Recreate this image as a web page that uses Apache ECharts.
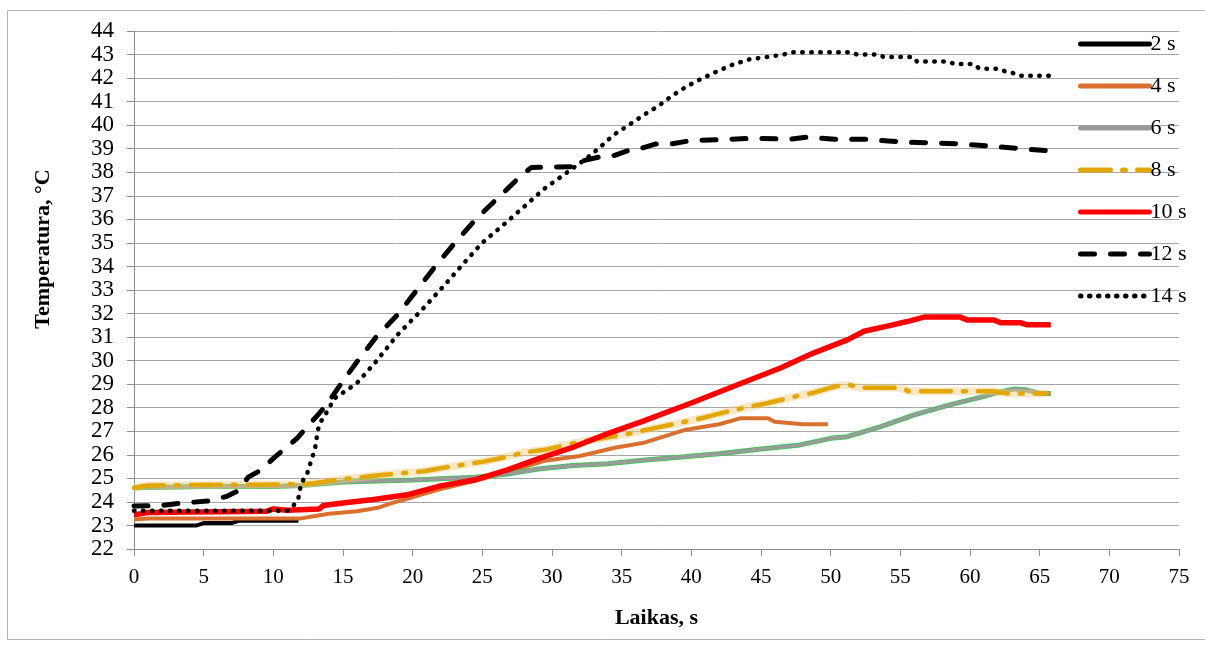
<!DOCTYPE html>
<html>
<head>
<meta charset="utf-8">
<script src="https://cdn.jsdelivr.net/npm/echarts@6/dist/echarts.min.js"></script>
<style>
  html, body { margin: 0; padding: 0; background: #fff; }
  #chart { width: 1205px; height: 647px; }
</style>
</head>
<body>
<div id="chart"></div>
<script>
// Temperature vs. time for different exposure durations
const seriesNames = ['2 s', '4 s', '6 s', '8 s', '10 s', '12 s', '14 s'];

const t2s = [[0,23.0],[4.5,23.0],[5,23.1],[7,23.1],[7.5,23.2],[11,23.2],[11.8,23.2]];

const t4s = [[0,23.25],[1,23.3],[12,23.3],[13,23.4],[14,23.5],[16,23.6],[17.5,23.75],[18.5,23.95],
  [20,24.2],[22,24.55],[24.5,24.9],[27,25.3],[29.5,25.75],[32,25.95],[34.5,26.3],[36.5,26.5],
  [39.5,27.05],[42,27.3],[43.5,27.55],[45.5,27.55],[46,27.4],[48,27.3],[49.8,27.3]];

const t6s = [[0,24.6],[5,24.65],[10,24.65],[12,24.7],[15,24.85],[20,24.93],[24.5,25.05],[27,25.2],
  [29,25.4],[31.5,25.55],[34,25.62],[36.5,25.77],[39.5,25.92],[42,26.05],[45,26.25],[47.8,26.42],
  [50,26.7],[51.2,26.77],[53.6,27.2],[56,27.7],[58.4,28.1],[60.8,28.45],[62,28.65],[63.2,28.8],
  [64.1,28.75],[65.1,28.6],[65.8,28.6]];

const t8s = [[0,24.6],[1,24.7],[12,24.75],[13,24.8],[14.8,24.95],[17.9,25.15],[20.8,25.3],[22.7,25.5],
  [25.1,25.71],[26.8,25.92],[28,26.1],[29.7,26.24],[31.6,26.5],[32.8,26.63],[35.1,26.85],[37.1,27.1],
  [40.7,27.55],[43,27.9],[45.5,28.2],[47.6,28.5],[48.8,28.64],[50,28.85],[50.7,28.95],[51.5,28.95],
  [52,28.85],[55,28.85],[55.6,28.7],[61.7,28.7],[62.7,28.6],[65.5,28.6]];

const t10s = [[0,23.45],[1,23.55],[9.5,23.6],[10,23.7],[11,23.65],[13.3,23.7],[13.6,23.85],[15,23.95],
  [17.2,24.1],[19.6,24.3],[22,24.68],[24.4,24.93],[26.8,25.36],[29.2,25.87],[31.6,26.34],[34,26.9],
  [36.4,27.4],[40,28.2],[43,28.9],[46.4,29.69],[48.8,30.33],[51.2,30.88],[52.4,31.25],[54.3,31.5],
  [55.5,31.66],[56.7,31.85],[59.3,31.85],[59.8,31.73],[61.7,31.73],[62.2,31.61],[63.6,31.61],
  [64.1,31.52],[65.8,31.52]];

const t12s = [[0,23.83],[2,23.85],[3.4,23.95],[5.6,24.05],[6.7,24.25],[7.4,24.45],[8.2,25.05],[9.1,25.35],
  [10,25.85],[10.7,26.2],[11.7,26.7],[12.3,27.1],[13.2,27.7],[13.8,28.1],[14.8,28.97],[16.1,30.03],
  [17.4,31.02],[18.9,31.94],[20.3,33.0],[21.7,34.06],[23.1,35.05],[24.6,36.05],[26.1,36.9],[27.7,37.81],
  [28.5,38.2],[31.5,38.24],[31.9,38.45],[33.5,38.66],[34.4,38.7],[35.6,38.95],[36.3,39.0],[37.4,39.2],
  [38.5,39.2],[40,39.35],[42.7,39.4],[44.5,39.45],[47,39.4],[48.4,39.5],[50.3,39.4],[52.7,39.4],
  [55,39.29],[57.3,39.25],[59.5,39.2],[61.6,39.1],[63.8,39.0],[65.9,38.9]];

const t14s = [[0,23.62],[11,23.62],[11.4,23.8],[11.8,24.16],[12.0,24.8],[12.4,25.15],[12.6,25.53],
  [12.8,25.9],[13.0,26.29],[13.2,27.06],[13.4,27.4],[13.8,27.78],[14.4,28.4],[14.9,28.6],[15.4,28.8],
  [16.0,29.05],[17.3,29.91],[18.9,31.09],[20.7,32.18],[22.5,33.35],[23.7,34.16],[25.0,35.01],
  [26.5,35.76],[28.0,36.54],[29.4,37.28],[31.0,37.96],[31.5,38.17],[32.5,38.6],[33.5,39.09],
  [34.4,39.58],[35.5,40.0],[36.5,40.4],[37.6,40.8],[38.6,41.24],[39.7,41.66],[40.8,41.99],[41.9,42.3],
  [43,42.58],[44.2,42.8],[45.5,42.9],[46.6,43.0],[47.3,43.1],[51.4,43.1],[51.9,43.0],[53.4,43.0],
  [53.8,42.9],[55.9,42.9],[56.2,42.7],[58.4,42.7],[58.9,42.6],[60.2,42.6],[60.7,42.4],[62.0,42.4],
  [62.6,42.27],[63.2,42.2],[63.6,42.1],[65.7,42.1]];

const xTitle = 'Laikas, s';
const yTitle = 'Temperatura, °C';

const serif = '"Liberation Serif", "Times New Roman", serif';
const gridColor = '#A6A6A6';

function line(name, data, lineStyle, extra) {
  return Object.assign({
    name: name,
    type: 'line',
    data: data,
    symbol: 'none',
    showSymbol: false,
    silent: true,
    itemStyle: { color: lineStyle.color },
    lineStyle: lineStyle
  }, extra || {});
}

const chart = echarts.init(document.getElementById('chart'), null, { renderer: 'canvas' });

chart.setOption({
  animation: false,
  backgroundColor: '#ffffff',
  grid: { left: 134, right: 26, top: 31, bottom: 98, containLabel: false },
  graphic: [
    {
      type: 'rect',
      shape: { x: 7.5, y: 10.5, width: 1400, height: 629 },
      style: { fill: 'none', stroke: '#B4B4B4', lineWidth: 1 },
      z: -10
    },
    {
      type: 'text',
      x: 43, y: 249,
      rotation: Math.PI / 2,
      style: {
        text: yTitle,
        font: 'bold 22px ' + serif,
        fill: '#000',
        align: 'center',
        verticalAlign: 'middle'
      }
    }
  ],
  legend: {
    data: seriesNames,
    orient: 'vertical',
    left: 1073,
    top: 28,
    itemWidth: 69,
    itemHeight: 14,
    itemGap: 20,
    itemStyle: { opacity: 0 },
    lineStyle: { width: 5, cap: 'round' },
    textStyle: { fontFamily: serif, fontSize: 22, color: '#000', padding: [0, 0, 0, -4] },
    selectedMode: false
  },
  xAxis: {
    type: 'value',
    min: 0, max: 75, interval: 5,
    name: xTitle,
    nameLocation: 'middle',
    nameGap: 58,
    nameTextStyle: { fontFamily: serif, fontSize: 22, fontWeight: 'bold', color: '#000' },
    axisLine: { show: true, lineStyle: { color: '#8C8C8C', width: 1 } },
    axisTick: { show: true, length: 7, lineStyle: { color: '#8C8C8C' } },
    axisLabel: { fontFamily: serif, fontSize: 21, color: '#000', margin: 18 },
    splitLine: { show: false }
  },
  yAxis: {
    type: 'value',
    min: 22, max: 44, interval: 1,
    axisLine: { show: true, lineStyle: { color: '#8C8C8C', width: 1 } },
    axisTick: { show: true, length: 7, lineStyle: { color: '#8C8C8C' } },
    axisLabel: { fontFamily: serif, fontSize: 23, color: '#000', margin: 20 },
    splitLine: { show: true, lineStyle: { color: gridColor, width: 1 } }
  },
  series: [
    line('2 s', t2s, { color: '#000000', width: 4 }),
    line('4 s', t4s, { color: '#D9702F', width: 4 }),
    // green edging under the grey 6 s curve
    line('6 s edge', t6s, { color: '#2FCB4A', width: 5 }),
    line('6 s', t6s, { color: '#9A9A9A', width: 3.5 }),
    // pale textured band behind the 8 s dash-dot curve
    line('8 s band', t8s, { color: 'rgba(240,205,130,0.45)', width: 8 }),
    line('8 s', t8s, { color: '#E3A702', width: 4.5, type: [30, 12, 3, 12], cap: 'round' }),
    line('10 s', t10s, { color: '#FF0000', width: 5.5 }),
    line('12 s', t12s, { color: '#000000', width: 5, type: [14, 16], cap: 'round' }),
    line('14 s', t14s, { color: '#000000', width: 4.5, type: [0.5, 8.5], cap: 'round' })
  ]
});
</script>
</body>
</html>
